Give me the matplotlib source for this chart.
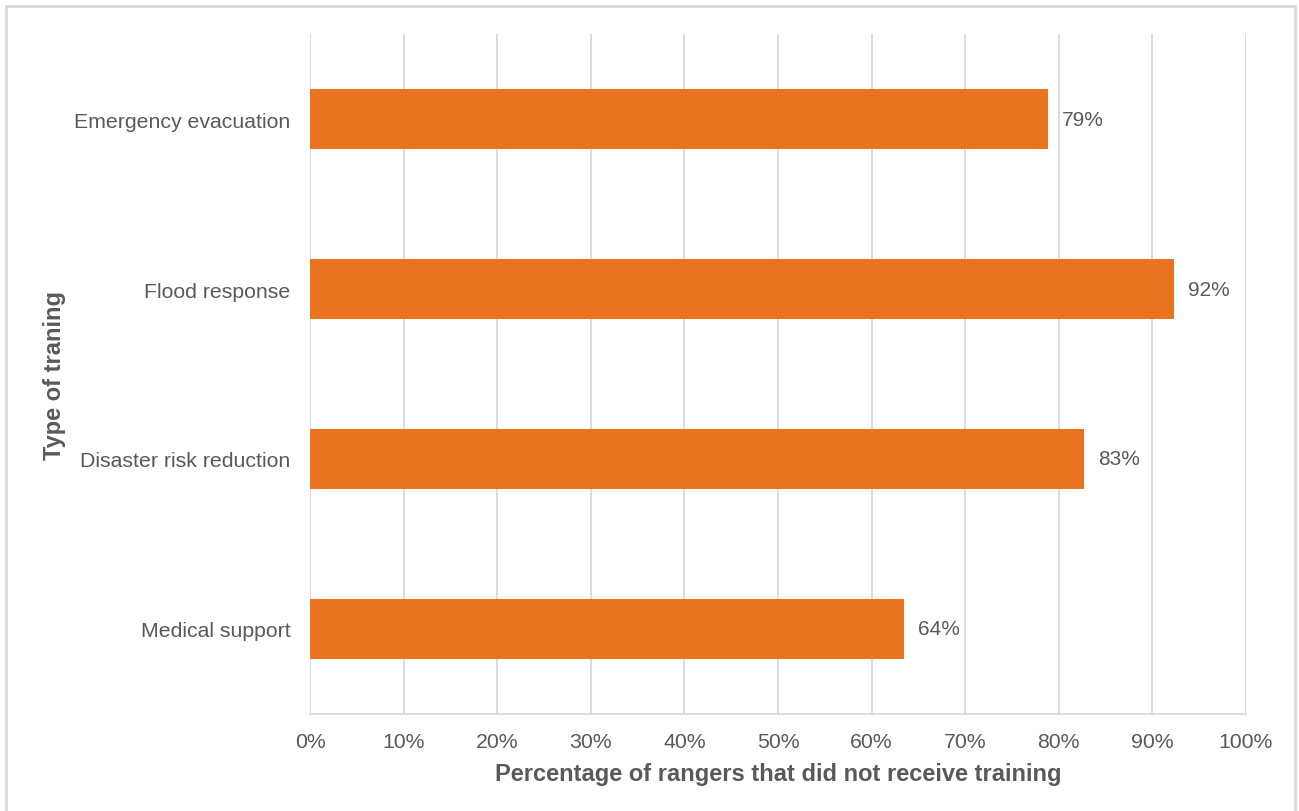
import matplotlib
matplotlib.use("Agg")
import matplotlib.pyplot as plt
from matplotlib.patches import Rectangle

plt.rcParams['font.family'] = ['Liberation Sans', 'DejaVu Sans']

categories = ["Emergency evacuation", "Flood response", "Disaster risk reduction", "Medical support"]
values = [78.8, 92.3, 82.7, 63.5]
xticks = [0, 10, 20, 30, 40, 50, 60, 70, 80, 90, 100]
xlabel = "Percentage of rangers that did not receive training"
ylabel = "Type of traning"

W, H = 1299, 812
fig = plt.figure(figsize=(W / 100, H / 100), dpi=100)
fig.patch.set_facecolor("white")

# outer frame
fig.patches.append(Rectangle((6 / W, -0.05), (1295 - 6) / W, 1.05 - 7 / H,
                             transform=fig.transFigure, fill=False,
                             edgecolor="#d9d9d9", linewidth=2.0))

left, right, top, bottom = 310, 1246, 35, 715
ax = fig.add_axes([left / W, 1 - bottom / H, (right - left) / W, (bottom - top) / H])

text_col = "#595959"
bar_col = "#EA7320"
grid_col = "#d9d9d9"

ypos = list(range(len(categories)))
ax.barh(ypos, values, height=0.353, color=bar_col, zorder=3)
for y, v in zip(ypos, values):
    ax.text(v + 1.5, y, f"{v:.0f}%", va="center", ha="left",
            fontsize=15, color=text_col)

ax.set_xlim(0, 100)
ax.set_ylim(len(categories) - 0.5, -0.5)
ax.set_xticks(xticks)
ax.set_xticklabels([f"{t}%" for t in xticks])
ax.set_yticks(ypos)
ax.set_yticklabels(categories)
ax.tick_params(axis="both", length=0, labelsize=15.3, labelcolor=text_col)
ax.tick_params(axis="x", pad=13)
ax.tick_params(axis="y", pad=14)

ax.grid(axis="x", color=grid_col, linewidth=1.3, zorder=0)
for s in ["top", "right", "left"]:
    ax.spines[s].set_visible(False)
ax.spines["bottom"].set_color(grid_col)
ax.spines["bottom"].set_linewidth(1.3)

ax.set_xlabel(xlabel, fontsize=17, fontweight="bold", color=text_col, labelpad=8)
ax.set_ylabel(ylabel, fontsize=17, fontweight="bold", color=text_col, labelpad=10)
ax.yaxis.set_label_coords(66 / W, 1 - 375 / H, transform=fig.transFigure)

fig.savefig("out.png", dpi=100, facecolor="white")
